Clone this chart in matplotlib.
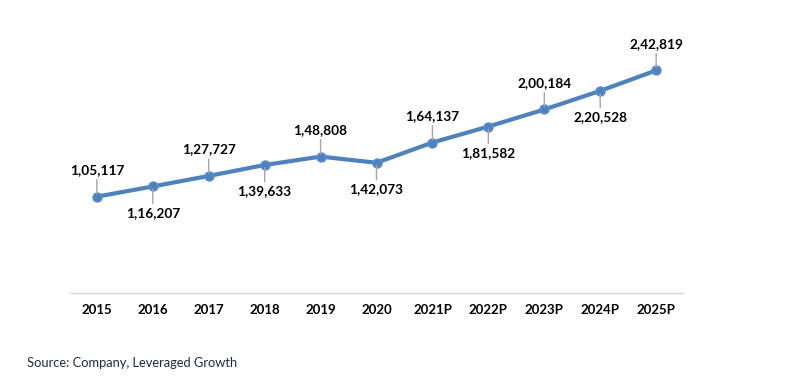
import matplotlib.pyplot as plt

years = ['2015', '2016', '2017', '2018', '2019', '2020',
         '2021P', '2022P', '2023P', '2024P', '2025P']
values = [105117, 116207, 127727, 139633, 148808, 142073,
          164137, 181582, 200184, 220528, 242819]
labels = ['1,05,117', '1,16,207', '1,27,727', '1,39,633', '1,48,808', '1,42,073',
          '1,64,137', '1,81,582', '2,00,184', '2,20,528', '2,42,819']

plt.rcParams['font.family'] = ['Lato', 'DejaVu Sans']

fig = plt.figure(figsize=(7.95, 3.76), dpi=100)
ax = fig.add_axes([70 / 795, 1 - 293 / 376, 613 / 795, 275 / 376])

x = list(range(len(years)))
ax.plot(x, values, color='#4f81bd', lw=3, marker='o', ms=6.5,
        markerfacecolor='#4f81bd', markeredgecolor='#5b8fd0', zorder=3)

for i, (v, lab) in enumerate(zip(values, labels)):
    sign = 1 if i % 2 == 0 else -1
    ax.annotate(lab, xy=(i, v), xytext=(0, 19 * sign), textcoords='offset points',
                ha='center', va='center', fontsize=9.8, fontweight='bold', color='black',
                arrowprops=dict(arrowstyle='-', color='#a6a6a6', lw=1,
                                shrinkA=0.5, shrinkB=2))

ax.set_xlim(-0.48, len(years) - 0.52)
ax.set_ylim(0, 300000)
ax.set_xticks(x)
ax.set_xticklabels(years, fontsize=9.5, fontweight='bold')
ax.set_yticks([])
ax.tick_params(axis='x', length=0, pad=8)
for s in ['top', 'right', 'left']:
    ax.spines[s].set_visible(False)
ax.spines['bottom'].set_color('#d9d9d9')
ax.spines['bottom'].set_linewidth(1)

fig.text(27 / 795, 1 - 363 / 376, 'Source: Company, Leveraged Growth',
         fontsize=9.3, color='#1f2a44', va='center', ha='left')

fig.savefig('out.png', dpi=100)
